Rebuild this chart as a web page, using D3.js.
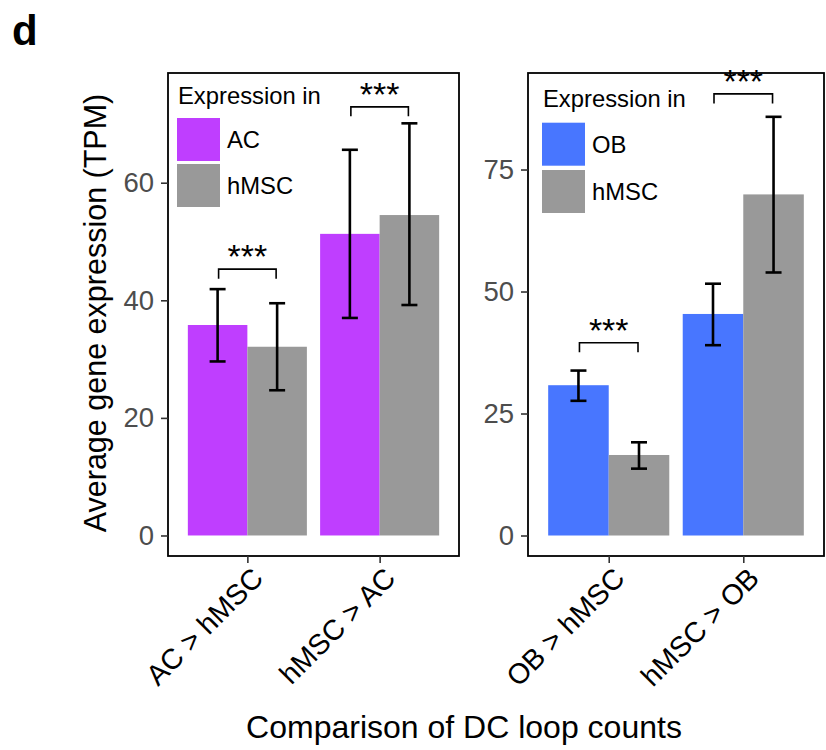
<!DOCTYPE html>
<html>
<head>
<meta charset="utf-8">
<script src="https://cdn.jsdelivr.net/npm/d3@7"></script>
<style>
  html, body { margin: 0; padding: 0; background: #ffffff; }
  svg { display: block; font-family: "Liberation Sans", Arial, Helvetica, sans-serif; }
</style>
</head>
<body>
<svg id="chart" width="826" height="750"></svg>
<script>
// ---- data ---------------------------------------------------------------
const acCategories = ["AC > hMSC", "hMSC > AC"];
const acMean = [35.8, 51.3];
const acLow = [29.6, 37.0];
const acHigh = [41.9, 65.6];
const acHmscMean = [32.1, 54.5];
const acHmscLow = [24.7, 39.2];
const acHmscHigh = [39.5, 70.1];
const acBracketY = [45.3, 72.9];

const obCategories = ["OB > hMSC", "hMSC > OB"];
const obMean = [30.8, 45.4];
const obLow = [27.6, 39.0];
const obHigh = [33.8, 51.6];
const obHmscMean = [16.5, 69.9];
const obHmscLow = [13.7, 53.9];
const obHmscHigh = [19.1, 85.8];
const obBracketY = [39.5, 90.5];

const acTicks = [0, 20, 40, 60];
const obTicks = [0, 25, 50, 75];
const significance = ["***", "***"];
const legendTitle = "Expression in";

const colors = { AC: "#BF3EFF", OB: "#4876FF", hMSC: "#999999" };

// ---- layout -------------------------------------------------------------
const FONT = '"Liberation Sans", Arial, Helvetica, sans-serif';
const svg = d3.select("#chart");

const panels = [
  {
    cell: "AC", categories: acCategories,
    mean: acMean, low: acLow, high: acHigh,
    hMean: acHmscMean, hLow: acHmscLow, hHigh: acHmscHigh,
    bracketY: acBracketY, ticks: acTicks,
    x0: 168, x1: 459, y0: 73, y1: 556, domain: [-3.49, 78.66],
    legend: { x: 177, titleY: 104, keyY: [118, 164] }
  },
  {
    cell: "OB", categories: obCategories,
    mean: obMean, low: obLow, high: obHigh,
    hMean: obHmscMean, hLow: obHmscLow, hHigh: obHmscHigh,
    bracketY: obBracketY, ticks: obTicks,
    x0: 528, x1: 824, y0: 73, y1: 556, domain: [-4.2, 94.78],
    legend: { x: 542, titleY: 106.5, keyY: [122.7, 170] }
  }
];

panels.forEach(p => {
  const x = d3.scalePoint().domain(p.categories).range([p.x0, p.x1]).padding(0.6);
  const step = x.step();
  const sub = d3.scaleBand().domain([p.cell, "hMSC"]).range([-0.45 * step, 0.45 * step]);
  const y = d3.scaleLinear().domain(p.domain).range([p.y1, p.y0]);

  const g = svg.append("g");

  // bars
  const rows = [];
  p.categories.forEach((c, i) => {
    rows.push({ cat: c, grp: p.cell, v: p.mean[i], lo: p.low[i], hi: p.high[i] });
    rows.push({ cat: c, grp: "hMSC", v: p.hMean[i], lo: p.hLow[i], hi: p.hHigh[i] });
  });

  g.selectAll("rect.bar").data(rows).join("rect")
    .attr("class", "bar")
    .attr("x", d => x(d.cat) + sub(d.grp))
    .attr("width", sub.bandwidth())
    .attr("y", d => y(d.v))
    .attr("height", d => y(0) - y(d.v))
    .attr("fill", d => colors[d.grp]);

  // error bars
  const cap = 8;
  const eb = g.selectAll("g.eb").data(rows).join("g").attr("class", "eb")
    .attr("stroke", "#000").attr("stroke-width", 2.6).attr("fill", "none");
  const cx = d => x(d.cat) + sub(d.grp) + sub.bandwidth() / 2;
  eb.append("line").attr("x1", cx).attr("x2", cx).attr("y1", d => y(d.lo)).attr("y2", d => y(d.hi));
  eb.append("line").attr("x1", d => cx(d) - cap).attr("x2", d => cx(d) + cap).attr("y1", d => y(d.hi)).attr("y2", d => y(d.hi));
  eb.append("line").attr("x1", d => cx(d) - cap).attr("x2", d => cx(d) + cap).attr("y1", d => y(d.lo)).attr("y2", d => y(d.lo));

  // significance brackets
  p.categories.forEach((c, i) => {
    const xa = x(c) + sub(p.cell) + sub.bandwidth() / 2 + 1;
    const xb = x(c) + sub("hMSC") + sub.bandwidth() / 2 - 1;
    const by = y(p.bracketY[i]);
    g.append("path")
      .attr("d", `M${xa},${by + 9.5}V${by}H${xb}V${by + 9.5}`)
      .attr("fill", "none").attr("stroke", "#000").attr("stroke-width", 1.6);
    g.append("text")
      .attr("x", (xa + xb) / 2).attr("y", by - 1)
      .attr("text-anchor", "middle")
      .attr("font-size", 34).attr("fill", "#000")
      .text(significance[i]);
  });

  // panel border
  g.append("rect")
    .attr("x", p.x0).attr("y", p.y0)
    .attr("width", p.x1 - p.x0).attr("height", p.y1 - p.y0)
    .attr("fill", "none").attr("stroke", "#000").attr("stroke-width", 1.8);

  // y axis
  const yAxis = g.append("g").attr("transform", `translate(${p.x0},0)`)
    .call(d3.axisLeft(y).tickValues(p.ticks).tickSize(7).tickPadding(7));
  yAxis.select(".domain").remove();
  yAxis.selectAll(".tick line").attr("stroke", "#333333").attr("stroke-width", 1.6);
  yAxis.selectAll(".tick text").attr("fill", "#4D4D4D")
    .attr("font-size", 27.5).attr("font-family", FONT);

  // x axis
  const xAxis = g.append("g").attr("transform", `translate(0,${p.y1})`)
    .call(d3.axisBottom(x).tickSize(7).tickPadding(0));
  xAxis.select(".domain").remove();
  xAxis.selectAll(".tick line").attr("stroke", "#333333").attr("stroke-width", 1.6);
  xAxis.selectAll(".tick text")
    .attr("fill", "#000").attr("font-size", 28.5).attr("font-family", FONT)
    .attr("text-anchor", "end").attr("dy", null).attr("y", null)
    .attr("transform", "translate(17,24) rotate(-45)");

  // legend
  const L = p.legend;
  const lg = g.append("g");
  lg.append("text").attr("x", L.x + 1).attr("y", L.titleY)
    .attr("font-size", 23.8).attr("fill", "#000").text(legendTitle);
  [p.cell, "hMSC"].forEach((k, j) => {
    lg.append("rect").attr("x", L.x).attr("y", L.keyY[j]).attr("width", 43).attr("height", 43)
      .attr("fill", colors[k]);
    lg.append("text").attr("x", L.x + 50).attr("y", L.keyY[j] + 21.5)
      .attr("dy", "0.35em").attr("font-size", 23.8).attr("fill", "#000").text(k);
  });
});

// axis titles
svg.append("text")
  .attr("transform", "translate(106,313) rotate(-90)")
  .attr("text-anchor", "middle").attr("font-size", 30.5).attr("fill", "#000")
  .text("Average gene expression (TPM)");

svg.append("text")
  .attr("x", 464).attr("y", 738)
  .attr("text-anchor", "middle").attr("font-size", 32).attr("fill", "#000")
  .text("Comparison of DC loop counts");

// panel tag
svg.append("text")
  .attr("x", 12).attr("y", 45)
  .attr("font-size", 42).attr("font-weight", "bold").attr("fill", "#000")
  .text("d");
</script>
</body>
</html>
